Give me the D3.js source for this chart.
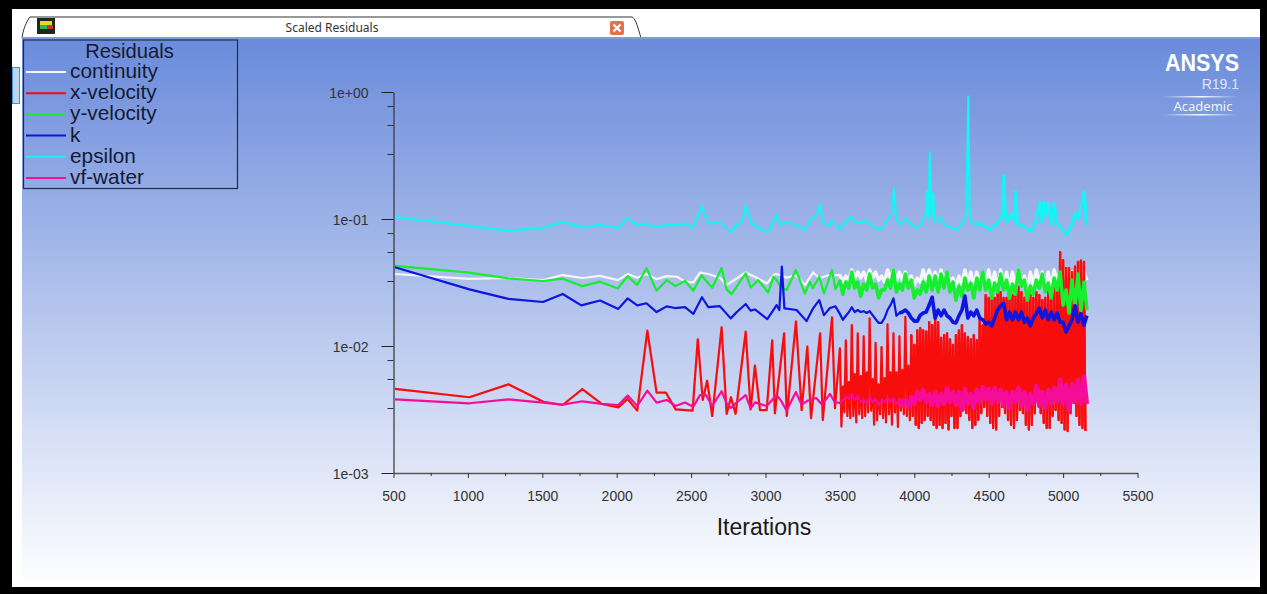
<!DOCTYPE html>
<html>
<head>
<script src="https://d3js.org/d3.v7.min.js"></script>
<title>Scaled Residuals</title>
<style>
	html, body { margin:0; padding:0; background:#000; overflow:hidden; }
	svg { display:block; }
	text { font-family:"Liberation Sans", Arial, sans-serif; }
</style>
</head>
<body>
<svg id="chart" width="1267" height="594"></svg>
<script>
// tick labels and legend
var xTicks = [500,1000,1500,2000,2500,3000,3500,4000,4500,5000,5500];
var yTicks = [1,0.1,0.01,0.001];
var yMinor = [0.775,0.55,0.325];
var names = ["continuity","x-velocity","y-velocity","k","epsilon","vf-water"];
var colors = ["#f4f6fb","#f80a0c","#12ee2e","#0a14e0","#12f4f6","#f5109a"];

// the solver monitor gets dense from 3500 on, read as top/bottom of the band
var denseStart = 3500;
var denseStep = 20;
var redStep = 10;
var thickFrom = [3500,3980,3500,3900,4400,3900];
var thickWidth = [3.4,2.25,3.6,3.6,3,4.4];

var contIter = [510,1010,1270,1505,1637,1770,1888,2008,2075,2138,2200,2268,2336,2405,2459,2515,2560,2616,2693,2739,2867,2940,3008,3063,3105,3142,3204,3265,3320,3361,3433];
var contVal = [.0369,.0338,.0343,.0330,.0362,.0343,.0357,.0330,.0369,.0345,.0369,.0336,.0355,.0351,.0321,.0317,.0379,.0369,.0345,.0302,.0379,.0345,.0311,.0369,.0362,.0345,.0362,.0302,.0379,.0343,.0362];
var contDense = [.0362,.0319,.0355,.0330,.0397,.0343,.0382,.0343,.0382,.0330,.0397,.0343,.0382,.0330,.0355,.0319,.0397,.0343,.0397,.0330,.0382,.0330,.0382,.0319,.0355,.0302,.0343,.0319,.0397,.0330,.0397,.0330,.0382,.0319,.0397,.0330,.0382,.0319,.0343,.0296,.0355,.0307,.0397,.0319,.0382,.0296,.0382,.0302,.0382,.0296,.0397,.0296,.0382,.0286,.0397,.0296,.0382,.0286,.0382,.0286,.0397,.0302,.0355,.0276,.0382,.0302,.0397,.0319,.0382,.0286,.0382,.0286,.0397,.0319,.0382,.0330,.0397,.0343,.0382,.0343,.0397,.0343,.0382,.0330];

var xvelIter = [510,1010,1272,1507,1637,1769,1899,2011,2074,2138,2206,2268,2331,2396,2510,2545,2578,2608,2642,2705,2739,2768,2799,2867,2900,2929,2963,3008,3045,3063,3125,3143,3205,3243,3281,3306,3367,3385,3447,3467];
var xvelVal = [.00459,.00395,.00499,.00364,.00343,.00457,.00350,.00329,.00383,.00310,.0132,.00429,.00429,.00317,.00310,.0113,.00376,.00533,.00281,.0140,.00292,.00395,.00292,.0130,.00317,.0070,.00313,.00313,.0111,.00295,.0126,.00281,.0156,.00313,.00988,.0027,.0126,.00261,.0168,.00323];
var xvelDense = [.0096,.00232,.0048,.0030,.0111,.0028,.0052,.0027,.0146,.0028,.0060,.0025,.0126,.0029,.0058,.0027,.0119,.0028,.0062,.0030,.0165,.0031,.0055,.0024,.0106,.0026,.0050,.0029,.0098,.0027,.0056,.0025,.0148,.0029,.0062,.0024,.0126,.0030,.0062,.0023,.0119,.0031,.0065,.0029,.0170,.0028,.0070,.0026,
	.0122,.00281,.0102,.00239,.0133,.00226,.0138,.00248,.0133,.00261,.0130,.00281,.0154,.00261,.0146,.00239,.0166,.00226,.0154,.00239,.0116,.00226,.0122,.00248,.0126,.00220,.0113,.00281,.0102,.00226,.0122,.00226,.0133,.00281,.0146,.00313,.0126,.00296,.0118,.00261,.0113,.00226,.0122,.00239,.0111,.00261,.0166,.00296,.0146,.00331,.0252,.00281,.0239,.00248,.0230,.00226,.0239,.00220,.0266,.00281,.0266,.00331,.0239,.00296,.0239,.00261,.0230,.00239,.0252,.00226,.0252,.00261,.0292,.00313,.0266,.00296,.0239,.00239,.0230,.00220,.0252,.00239,.0239,.00296,.0266,.00356,.0252,.00296,.0230,.00248,.0239,.00226,.0266,.00226,.0252,.00281,.0292,.00313,.0266,.00261,.0549,.00248,.0475,.00220,.0411,.00214,.0411,.00296,.0382,.00356,.0421,.00281,.0460,.00239,.0470,.00226,.0460,.00214];

var yvelIter = [510,1010,1272,1505,1637,1770,1888,2008,2073,2138,2200,2268,2336,2396,2459,2515,2570,2642,2705,2739,2772,2867,2900,2951,3018,3053,3075,3102,3142,3204,3265,3299,3318,3361,3393,3447,3470];
var yvelVal = [.0427,.0378,.0341,.0325,.0339,.0296,.0321,.0284,.0355,.0302,.0410,.0273,.0330,.0296,.0325,.0272,.0359,.0288,.0410,.0279,.0256,.0374,.0289,.0330,.0264,.0351,.0330,.0290,.0276,.0397,.0259,.0320,.0285,.0351,.0259,.0397,.0280];
var yvelDense = [.0330,.0256,.0319,.0286,.0382,.0286,.0319,.0247,.0307,.0276,.0368,.0286,.0307,.0239,.0276,.0276,.0330,.0286,.0397,.0266,.0307,.0276,.0368,.0286,.0330,.0239,.0276,.0256,.0319,.0266,.0355,.0276,.0355,.0266,.0368,.0286,.0382,.0266,.0319,.0230,.0296,.0247,.0343,.0276,.0313,.0239,.0343,.0276,.0382,.0276,.0330,.0239,.0313,.0266,.0368,.0276,.0330,.0239,.0307,.0256,.0397,.0296,.0330,.0230,.0296,.0256,.0330,.0286,.0368,.0266,.0313,.0239,.0343,.0276,.0382,.0210,.0276,.0182,.0330,.0200,.0368,.0190,.0319,.0192];

var kIter = [510,1010,1272,1505,1637,1762,1888,2011,2073,2138,2200,2268,2336,2391,2459,2515,2573,2616,2693,2766,2811,2867,2900,2929,3012,3075,3093,3110,3127,3209,3276,3320,3361,3393,3433,3470];
var kVal = [.0417,.0279,.0235,.0222,.0257,.0209,.0228,.0196,.0237,.0209,.0217,.0185,.0205,.0199,.0202,.0179,.0242,.0202,.0206,.0165,.0187,.0214,.0190,.0194,.0163,.0210,.0192,.0421,.0198,.0192,.0157,.0198,.0230,.0175,.0199,.0205];
var kDense = [.0179,.0161,.0173,.0185,.0202,.0185,.0192,.0185,.0188,.0182,.0188,.0175,.0163,.0152,.0152,.0166,.0192,.0210,.0237,.0173,.0182,.0185,.0192,.0182,.0166,.0157,.0157,.0175,.0182,.0185,.0210,.0242,.0166,.0192,.0173,.0192,.0173,.0166,.0154,.0152,.0173,.0192,.0247,.0166,.0185,.0173,.0192,.0166,.0161,.0149,.0154,.0144,.0166,.0192,.0207,.0217,.0161,.0185,.0161,.0185,.0161,.0185,.0154,.0166,.0144,.0166,.0179,.0199,.0166,.0192,.0161,.0185,.0161,.0182,.0154,.0154,.0129,.0144,.0161,.0207,.0154,.0179,.0146,.0173];

var epsIter = [510,1270,1505,1637,1773,1888,2008,2073,2137,2200,2268,2336,2391,2459,2513,2573,2616,2693,2766,2811,2840,2867,2907,2985,3030,3070,3102,3142,3198,3265,3300,3333,3367,3385,3423,3446,3502,3574,3603,3635,3676,3748,3781,3826,3850,3864,3880,3905,3942,3995,4016,4050,4077,4085,4093,4105,4115,4127,4136,4180,4200,4285,4330,4350,4363,4372,4380,4410,4445,4500,4550,4590,4602,4612,4625,4650,4675,4683,4692,4715,4750,4790,4815,4830,4845,4858,4870,4885,4900,4925,4941,4955,4985,5024,5050,5080,5100,5125,5143,5155,5162];
var epsVal = [.104,.081,.085,.095,.086,.090,.085,.102,.090,.092,.086,.090,.089,.092,.085,.127,.092,.094,.079,.091,.093,.127,.093,.080,.082,.108,.090,.094,.091,.082,.098,.104,.130,.095,.088,.098,.083,.105,.094,.094,.097,.083,.084,.102,.110,.175,.100,.090,.100,.087,.085,.092,.110,.165,.100,.330,.105,.160,.095,.103,.090,.082,.095,.110,.920,.118,.095,.090,.093,.082,.090,.105,.220,.105,.095,.110,.098,.165,.092,.090,.085,.080,.095,.115,.135,.095,.135,.105,.135,.090,.135,.095,.085,.075,.085,.110,.100,.130,.165,.095,.090];

var vofIter = [510,1010,1272,1505,1637,1769,1899,2011,2074,2138,2206,2268,2336,2396,2459,2515,2560,2596,2642,2705,2739,2768,2799,2867,2900,2929,3008,3075,3105,3142,3204,3243,3281,3340,3381,3433,3467];
var vofVal = [.0038,.00354,.0038,.00358,.00345,.00367,.0035,.00343,.00407,.00337,.00445,.00358,.00376,.00337,.00359,.00333,.00411,.00417,.00337,.0044,.00354,.00325,.00354,.00411,.00323,.00360,.00337,.00411,.00370,.00310,.00434,.00345,.00370,.00390,.00345,.00420,.00360];
var vofDense = [.00356,.00376,.00397,.00383,.00419,.00376,.00404,.00362,.00376,.0035,.00397,.00362,.00383,.00343,.00376,.00362,.0039,.00362,.0039,.00343,.00383,.00343,.00376,.00331,.00397,.0035,.00434,.00376,.0045,.00362,.00419,.00343,.00434,.00337,.00419,.0035,.00467,.00362,.00434,.00343,.00434,.00313,.00459,.0035,.00419,.00325,.0045,.00362,.00475,.00376,.00459,.0035,.00467,.00362,.0045,.00337,.00434,.00325,.00434,.00362,.00467,.00337,.00434,.00313,.00419,.0035,.00484,.00337,.00434,.00325,.0045,.0035,.00467,.00362,.0054,.0035,.00493,.00313,.00502,.00362,.0054,.0035,.00581,.0035];

var svg = d3.select("#chart");
var defs = svg.append("defs");

// panel background
var bg = defs.append("linearGradient").attr("id","bgGrad").attr("x1",0).attr("y1",0).attr("x2",0).attr("y2",1);
bg.append("stop").attr("offset","0%").attr("stop-color","#6a8bdb");
bg.append("stop").attr("offset","100%").attr("stop-color","#ffffff");
var fade = defs.append("linearGradient").attr("id","logoLine");
fade.append("stop").attr("offset","0%").attr("stop-color","#fff").attr("stop-opacity",0);
fade.append("stop").attr("offset","50%").attr("stop-color","#fff").attr("stop-opacity",0.95);
fade.append("stop").attr("offset","100%").attr("stop-color","#fff").attr("stop-opacity",0);
defs.append("filter").attr("id","soft").attr("x","-2%").attr("y","-2%").attr("width","104%").attr("height","104%")
	.append("feGaussianBlur").attr("stdDeviation",0.5);

svg.append("rect").attr("width",1267).attr("height",594).attr("fill","#000");
svg.append("rect").attr("x",12).attr("y",9).attr("width",1248).attr("height",578).attr("fill","#fff");
svg.append("rect").attr("x",22).attr("y",38).attr("width",1238).attr("height",549).attr("fill","url(#bgGrad)");

// window tab
svg.append("path").attr("d","M22,38 C23,30 26,22 30,17 L632,17 C635,18 637,24 641,38")
	.attr("fill","#fff").attr("stroke","#333").attr("stroke-width",1);
svg.append("rect").attr("x",22).attr("y",37).attr("width",1238).attr("height",2).attr("fill","#7f9ce0");
svg.append("text").attr("x",332).attr("y",32).attr("text-anchor","middle")
	.style("font-family","'Noto Sans', sans-serif").style("font-size","12px").attr("fill","#333").text("Scaled Residuals");

// little window icon
svg.append("rect").attr("x",37).attr("y",18).attr("width",18).attr("height",16).attr("fill","#1c2a1c");
svg.append("rect").attr("x",40).attr("y",21).attr("width",12).attr("height",4).attr("fill","#e8d820");
svg.append("rect").attr("x",40).attr("y",25).attr("width",7).attr("height",4).attr("fill","#22c040");
svg.append("rect").attr("x",47).attr("y",25).attr("width",6).attr("height",4).attr("fill","#d83020");

// close button
svg.append("rect").attr("x",610).attr("y",21).attr("width",14).attr("height",14).attr("rx",2).attr("fill","#e2714c");
svg.append("path").attr("d","M613.5,24.5 L620.5,31.5 M620.5,24.5 L613.5,31.5").attr("stroke","#fff").attr("stroke-width",2.2);

// side widget
svg.append("rect").attr("x",12.5).attr("y",67.5).attr("width",7).attr("height",36).attr("fill","#bcd8ee").attr("stroke","#3f93dc");

var x = d3.scaleLinear().domain([500,5500]).range([393.5,1137.5]);
var y = d3.scaleLog().domain([0.001,1]).range([473,92]);

// axes
var xAxis = d3.axisBottom(x).tickValues(xTicks).tickFormat(d3.format("d")).tickSize(5).tickSizeOuter(0).tickPadding(13);
var gx = svg.append("g").attr("transform","translate(0,473)").call(xAxis);
gx.select(".domain").attr("stroke","#555").attr("stroke-width",1.3);
gx.selectAll(".tick line").attr("stroke","#333");
gx.selectAll("text").attr("fill","#333").style("font-size","14px").style("font-family","'Liberation Sans', Arial, sans-serif");

var xMinor = d3.axisBottom(x).tickValues(xTicks.slice(0,-1).map(function(d){return d+250;})).tickFormat("").tickSize(3).tickSizeOuter(0);
var gxm = svg.append("g").attr("transform","translate(0,473)").call(xMinor);
gxm.select(".domain").remove();
gxm.selectAll(".tick line").attr("stroke","#333");

var yAxis = d3.axisLeft(y).tickValues(yTicks).tickFormat(d3.format(".0e")).tickSize(12).tickSizeOuter(0).tickPadding(13);
var gy = svg.append("g").attr("transform","translate(393.5,0)").call(yAxis);
gy.select(".domain").attr("stroke","#333").attr("stroke-width",1.2);
gy.selectAll(".tick line").attr("stroke","#222");
gy.selectAll("text").attr("fill","#333").attr("dy","0.42em").style("font-size","14px").style("font-family","'Liberation Sans', Arial, sans-serif")
	.text(function(d){ return d3.format(".0e")(d).replace(/e([+-])(\d)$/,"e$10$2"); });

var minorVals = [];
yTicks.slice(0,-1).forEach(function(t){ yMinor.forEach(function(m){ minorVals.push(t*m); }); });
var yMinorAxis = d3.axisLeft(y).tickValues(minorVals).tickFormat("").tickSize(6).tickSizeOuter(0);
var gym = svg.append("g").attr("transform","translate(393.5,0)").call(yMinorAxis);
gym.select(".domain").remove();
gym.selectAll(".tick line").attr("stroke","#333");

svg.append("text").attr("x",764).attr("y",535).attr("text-anchor","middle").style("font-size","23px").attr("fill","#1a1a1a").text("Iterations");

// residual lines
function rows(iter, val, dense, step) {
	var out = d3.zip(iter, val);
	if (dense) dense.forEach(function(v,i){ out.push([denseStart+i*step, v]); });
	return out;
}
var series = [
	rows(contIter, contVal, contDense, denseStep),
	rows(xvelIter, xvelVal, xvelDense, redStep),
	rows(yvelIter, yvelVal, yvelDense, denseStep),
	rows(kIter, kVal, kDense, denseStep),
	rows(epsIter, epsVal),
	rows(vofIter, vofVal, vofDense, denseStep)
];
var line = d3.line().x(function(d){return x(d[0]);}).y(function(d){return y(d[1]);});
var plot = svg.append("g").attr("filter","url(#soft)");
var groups = plot.selectAll("g").data(series).enter().append("g")
	.attr("fill","none")
	.attr("stroke",function(d,i){return colors[i];})
	.attr("stroke-linejoin","round");
groups.append("path").attr("d",line).attr("stroke-width",2.2);
// the noisy end of each run reads as a solid band, so it is drawn heavier
groups.append("path")
	.attr("d",function(d,i){ return line(d.filter(function(p){ return p[0]>=thickFrom[i]; })); })
	.attr("stroke-width",function(d,i){ return thickWidth[i]; });

// legend
var legend = svg.append("g").attr("fill","#141a33");
legend.append("rect").attr("x",23.5).attr("y",40).attr("width",214).attr("height",148.5)
	.attr("fill","none").attr("stroke","#232b4d").attr("stroke-width",1.2);
legend.append("text").attr("x",129.5).attr("y",57.5).attr("text-anchor","middle").style("font-size","20.2px").text("Residuals");
names.forEach(function(n,i){
	var ly = 72+i*21.2;
	legend.append("line").attr("x1",26).attr("x2",66).attr("y1",ly).attr("y2",ly).attr("stroke",colors[i]).attr("stroke-width",2);
	legend.append("text").attr("x",70).attr("y",ly+6).style("font-size","20.8px").text(n);
});

// logo
var logo = svg.append("g").attr("fill","#fff");
logo.append("text").attr("x",1165).attr("y",71).attr("textLength",74).attr("lengthAdjust","spacingAndGlyphs").style("font-weight","700").style("font-size","24px").text("ANSYS");
logo.append("text").attr("x",1239).attr("y",89).attr("text-anchor","end").style("font-size","14px").attr("fill","#dfe6f7").text("R19.1");
logo.append("text").attr("x",1203).attr("y",111).attr("text-anchor","middle").style("font-family","'Noto Sans', sans-serif").style("font-size","13px").attr("fill","#eef2fb").text("Academic");
logo.append("rect").attr("x",1162).attr("y",96).attr("width",76).attr("height",1.5).attr("fill","url(#logoLine)");
logo.append("rect").attr("x",1162).attr("y",114).attr("width",76).attr("height",1.5).attr("fill","url(#logoLine)");
</script>
</body>
</html>
